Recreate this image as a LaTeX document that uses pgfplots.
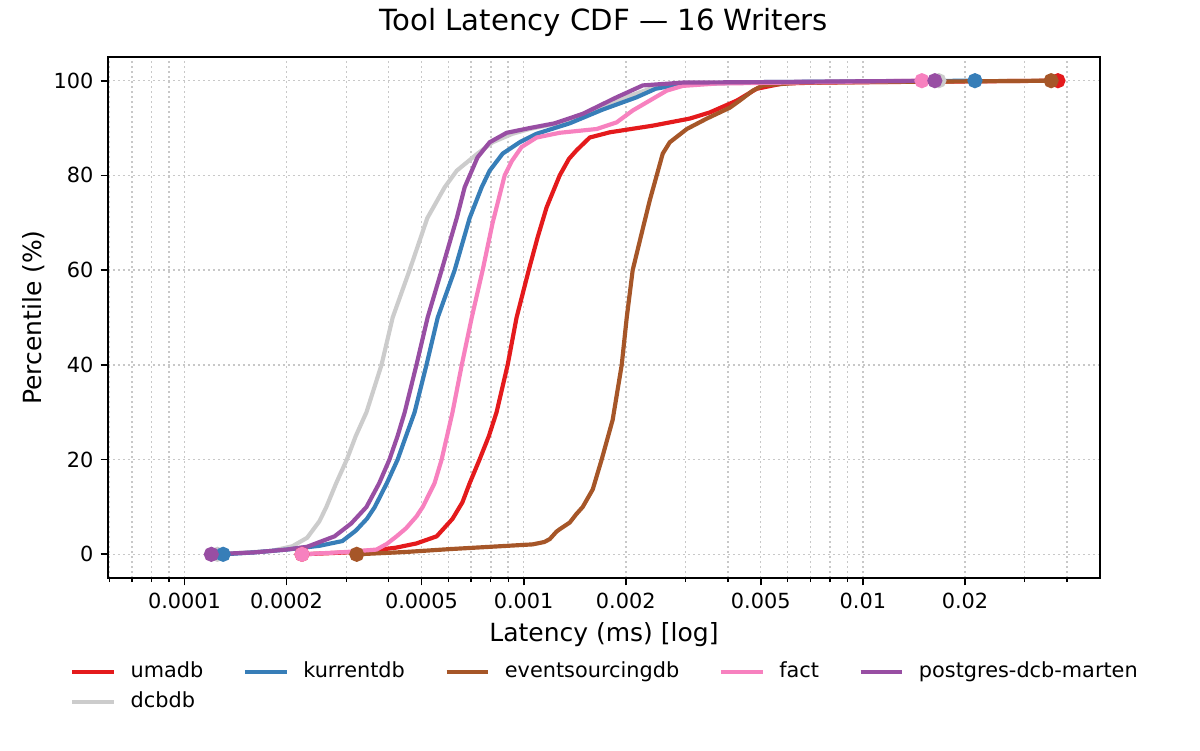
\documentclass[border=0pt]{standalone}
\usepackage{pgfplots}
\pgfplotsset{compat=1.18}
\usepackage{fontspec}
\setmainfont{DejaVu Sans}
\definecolor{cRed}{HTML}{E41A1C}
\definecolor{cBlue}{HTML}{377EB8}
\definecolor{cBrown}{HTML}{A65628}
\definecolor{cPink}{HTML}{F781BF}
\definecolor{cPurple}{HTML}{984EA3}
\definecolor{cGray}{HTML}{CCCCCC}
\definecolor{cGrid}{HTML}{C8C8C8}
\begin{document}
\begin{tikzpicture}
\begin{axis}[
  at={(51.84pt,82.56pt)}, anchor=south west,
  scale only axis, width=476.16pt, height=250.08pt,
  xmode=log, xmin=5.95e-5, xmax=0.05, ymin=-5, ymax=105,
  xtick={1e-4,2e-4,5e-4,1e-3,2e-3,5e-3,1e-2,2e-2},
  xticklabels={0.0001,0.0002,0.0005,0.001,0.002,0.005,0.01,0.02},
  minor xtick={6e-5,7e-5,8e-5,9e-5,3e-4,4e-4,6e-4,7e-4,8e-4,9e-4,3e-3,4e-3,6e-3,7e-3,8e-3,9e-3,3e-2,4e-2},
  ytick={0,20,40,60,80,100},
  tick pos=left, tick align=outside,
  major tick length=3.5pt, minor tick length=2pt,
  every major tick/.style={line width=0.8pt, black},
  every minor tick/.style={line width=0.6pt, black},
  axis line style={line width=0.8pt},
  grid=both,
  major grid style={cGrid, line width=0.7pt, dash pattern=on 0.8pt off 1.6pt},
  minor grid style={cGrid, line width=0.7pt, dash pattern=on 0.8pt off 1.6pt},
  /pgf/number format/assume math mode=true,
  tick label style={font=\fontsize{10}{12}\selectfont},
  title={Tool Latency CDF — 16 Writers},
  title style={font=\fontsize{14}{16}\selectfont, at={(axis description cs:0.5,1.0264)}, anchor=base},
  xlabel={Latency (ms) [log]},
  xlabel style={font=\fontsize{12}{14}\selectfont, at={(axis description cs:0.5,-0.1228)}, anchor=base},
  ylabel={Percentile (\%)},
  ylabel style={font=\fontsize{12}{14}\selectfont, at={(axis description cs:-0.0672,0.5)}, anchor=base, rotate=0},
  legend columns=5,
  legend cell align=left,
  legend image code/.code={\draw[#1] (0pt,0pt) -- (20pt,0pt);},
  legend style={draw=none, fill=none, at={(0.5,-0.2095)}, anchor=center,
    font=\fontsize{10}{12}\selectfont, row sep=5.1pt,
    nodes={inner sep=0pt, text height=7.3pt, text depth=2pt},
    /tikz/every odd column/.append style={column sep=7pt},
    /tikz/every even column/.append style={column sep=19pt}},
  every axis plot/.append style={line width=2pt},
]
% dcbdb (drawn underneath)
\addplot[cGray, forget plot] coordinates {(1.25e-4,0) (1.8e-4,0.7) (2.08e-4,1.7) (2.3e-4,3.5) (2.5e-4,7) (2.62e-4,10) (2.8e-4,15) (3.01e-4,20) (3.2e-4,25) (3.44e-4,30) (3.81e-4,40) (4.11e-4,50) (4.61e-4,60) (5.2e-4,71) (5.85e-4,77.5) (6.35e-4,81) (7.31e-4,84.6) (8.1e-4,87) (9.28e-4,88.8) (1.04e-3,89.8) (1.3e-3,91.2) (1.6e-3,93.8) (2.0e-3,96.5) (2.4e-3,98.5) (3e-3,99.3) (5e-3,99.6) (0.01675,100)};
\addplot[cGray, only marks, mark=*, mark size=2.6pt, forget plot] coordinates {(1.25e-4,0) (0.01675,100)};
% umadb
\addplot[cRed] coordinates {(2.22e-4,0) (3.0e-4,0.4) (3.68e-4,0.9) (4.2e-4,1.4) (4.83e-4,2.3) (5.54e-4,3.8) (6.17e-4,7.5) (6.6e-4,11) (6.93e-4,15) (7.41e-4,20) (7.9e-4,25) (8.32e-4,30) (8.97e-4,40) (9.53e-4,50) (1.035e-3,60) (1.1e-3,67) (1.169e-3,73.3) (1.277e-3,80) (1.36e-3,83.5) (1.432e-3,85.3) (1.566e-3,88) (1.794e-3,89.1) (2.4e-3,90.5) (3.088e-3,92) (3.539e-3,93.3) (4.25e-3,95.8) (4.865e-3,98.3) (5.8e-3,99.4) (7.31e-3,99.6) (0.0376,100)};
\addlegendentry{umadb}
\addplot[cRed, only marks, mark=*, mark size=2.6pt, forget plot] coordinates {(2.22e-4,0) (0.0376,100)};
% kurrentdb
\addplot[cBlue] coordinates {(1.3e-4,0) (1.6e-4,0.4) (2.0e-4,1) (2.5e-4,1.8) (2.92e-4,2.8) (3.2e-4,5) (3.45e-4,7.5) (3.64e-4,10) (3.95e-4,15) (4.25e-4,20) (4.5e-4,25) (4.77e-4,30) (5.17e-4,40) (5.58e-4,50) (6.26e-4,60) (6.93e-4,71) (7.52e-4,77.5) (7.94e-4,81) (8.67e-4,84.6) (9.73e-4,87) (1.092e-3,88.8) (1.367e-3,91) (1.71e-3,93.9) (2.153e-3,96.5) (2.45e-3,98.3) (2.944e-3,99.3) (5e-3,99.7) (0.0214,100)};
\addlegendentry{kurrentdb}
\addplot[cBlue, only marks, mark=*, mark size=2.6pt, forget plot] coordinates {(1.3e-4,0) (0.0214,100)};
% eventsourcingdb
\addplot[cBrown] coordinates {(3.22e-4,0) (4.5e-4,0.5) (6.05e-4,1.1) (1.063e-3,2.1) (1.15e-3,2.6) (1.193e-3,3.2) (1.25e-3,4.8) (1.277e-3,5.3) (1.367e-3,6.7) (1.43e-3,8.5) (1.493e-3,10) (1.598e-3,13.7) (1.698e-3,20) (1.83e-3,28.4) (1.946e-3,40) (2.013e-3,50) (2.096e-3,60) (2.228e-3,67.8) (2.353e-3,74.7) (2.467e-3,80) (2.57e-3,84.6) (2.696e-3,87) (3.027e-3,89.8) (3.467e-3,92) (4.053e-3,94.3) (4.335e-3,95.8) (4.737e-3,97.9) (5.07e-3,99) (6.52e-3,99.6) (0.0359,100)};
\addlegendentry{eventsourcingdb}
\addplot[cBrown, only marks, mark=*, mark size=2.6pt, forget plot] coordinates {(3.22e-4,0) (0.0359,100)};
% fact
\addplot[cPink] coordinates {(2.22e-4,0) (3.0e-4,0.5) (3.68e-4,1) (3.95e-4,2.2) (4.22e-4,3.8) (4.5e-4,5.5) (4.83e-4,8) (5.04e-4,10) (5.46e-4,15) (5.73e-4,20) (6.17e-4,30) (6.57e-4,40) (7.03e-4,50) (7.57e-4,60) (8.1e-4,70) (8.79e-4,80) (9.22e-4,83) (9.86e-4,86) (1.092e-3,88) (1.277e-3,89) (1.642e-3,89.8) (1.88e-3,91.2) (2.096e-3,93.7) (2.353e-3,95.8) (2.641e-3,97.9) (2.944e-3,98.9) (3.71e-3,99.4) (6e-3,99.6) (0.01493,100)};
\addlegendentry{fact}
\addplot[cPink, only marks, mark=*, mark size=2.6pt, forget plot] coordinates {(2.22e-4,0) (0.01493,100)};
% postgres-dcb-marten
\addplot[cPurple] coordinates {(1.2e-4,0) (1.6e-4,0.4) (2.0e-4,1) (2.3e-4,1.6) (2.77e-4,3.8) (3.1e-4,6.5) (3.44e-4,10) (3.75e-4,15) (4.02e-4,20) (4.25e-4,25) (4.46e-4,30) (4.83e-4,40) (5.21e-4,50) (5.73e-4,60) (6.35e-4,71) (6.7e-4,77.5) (7.31e-4,83.8) (7.94e-4,87) (8.91e-4,89) (1.042e-3,90) (1.234e-3,91) (1.493e-3,93) (1.88e-3,96.5) (2.244e-3,99) (2.944e-3,99.6) (5e-3,99.7) (0.0163,100)};
\addlegendentry{postgres-dcb-marten}
\addplot[cPurple, only marks, mark=*, mark size=2.6pt, forget plot] coordinates {(1.2e-4,0) (0.0163,100)};
\addlegendimage{cGray, line width=2pt}
\addlegendentry{dcbdb}
\end{axis}
\pgfresetboundingbox
\useasboundingbox (0,0) rectangle (576pt,360pt);
\end{tikzpicture}
\end{document}
